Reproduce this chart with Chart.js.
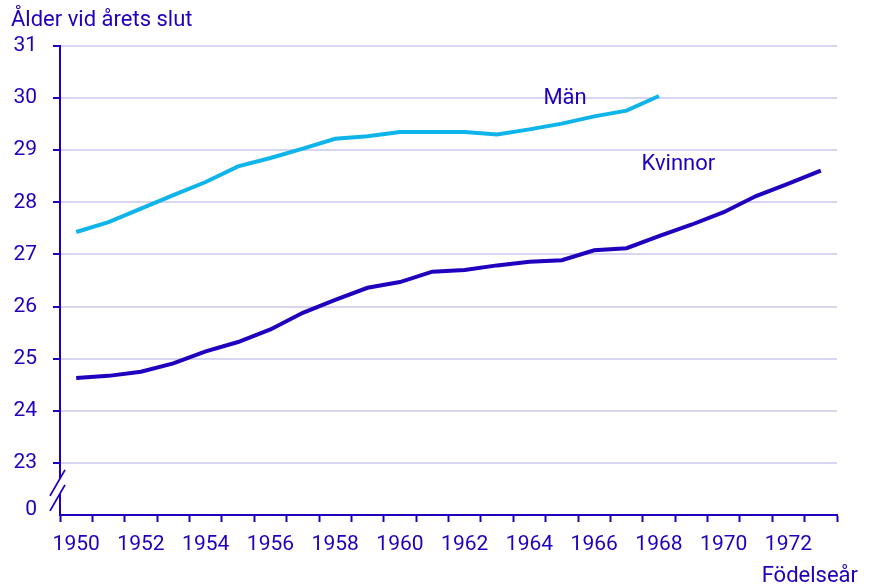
<!DOCTYPE html>
<html>
<head>
<meta charset="utf-8">
<script src="https://cdn.jsdelivr.net/npm/chart.js@4"></script>
<style>
  body { margin: 0; background: #fff; }
  canvas { display: block; }
</style>
</head>
<body>
<canvas id="ageChart" width="869" height="586"></canvas>
<script>
// --- Data ---
const years = [];
for (let y = 1950; y <= 1973; y++) years.push(String(y));

const man = [27.43, 27.62, 27.88, 28.14, 28.39, 28.69, 28.85, 29.03, 29.22, 29.27,
  29.35, 29.35, 29.35, 29.30, 29.40, 29.51, 29.65, 29.76, 30.04,
  null, null, null, null, null];
const kvinnor = [24.63, 24.67, 24.75, 24.91, 25.14, 25.32, 25.56, 25.88, 26.13, 26.36,
  26.47, 26.67, 26.70, 26.79, 26.86, 26.89, 27.08, 27.12, 27.35, 27.57,
  27.81, 28.12, 28.36, 28.61];

// 22.1 stands in for the "0" under the axis break
const yTicks = [22.1, 23, 24, 25, 26, 27, 28, 29, 30, 31];

const BLUE = '#1e00be';
const CYAN = '#0fb4eb';
const GRID = '#d6d6f2';
const FONT = 'Roboto, "Noto Sans", sans-serif';

// --- Extra text + axis break ---
const extras = {
  id: 'extras',
  afterDraw(chart) {
    const { ctx, scales: { x, y } } = chart;
    ctx.save();
    ctx.fillStyle = BLUE;
    ctx.font = '22px ' + FONT;
    ctx.textBaseline = 'middle';
    ctx.textAlign = 'left';
    ctx.fillText('Ålder vid årets slut', 11, 20);
    ctx.textAlign = 'right';
    ctx.fillText('Födelseår', 858, 576);
    ctx.textAlign = 'center';
    ctx.fillText('Män', x.getPixelForValue(15.1), y.getPixelForValue(30));
    ctx.fillText('Kvinnor', x.getPixelForValue(18.6), y.getPixelForValue(28.73));

    // break in the y axis
    const ax = x.left;
    const top = y.getPixelForValue(23) + 7;
    const gap = 15;
    ctx.fillStyle = '#fff';
    ctx.beginPath();
    ctx.moveTo(ax - 10, top + 26);
    ctx.lineTo(ax + 5, top);
    ctx.lineTo(ax + 5, top + gap);
    ctx.lineTo(ax - 10, top + 26 + gap);
    ctx.closePath();
    ctx.fill();
    ctx.strokeStyle = BLUE;
    ctx.lineWidth = 1.8;
    ctx.beginPath();
    ctx.moveTo(ax - 10, top + 26);
    ctx.lineTo(ax + 5, top);
    ctx.moveTo(ax - 10, top + 26 + gap);
    ctx.lineTo(ax + 5, top + gap);
    ctx.stroke();
    ctx.restore();
  }
};

new Chart(document.getElementById('ageChart').getContext('2d'), {
  type: 'line',
  data: {
    labels: years,
    datasets: [
      { label: 'Män', data: man, borderColor: CYAN, borderWidth: 4, pointRadius: 0, tension: 0 },
      { label: 'Kvinnor', data: kvinnor, borderColor: BLUE, borderWidth: 4, pointRadius: 0, tension: 0 }
    ]
  },
  options: {
    responsive: false,
    animation: false,
    layout: { padding: { top: 46, right: 32, left: 0, bottom: 0 } },
    plugins: { legend: { display: false }, tooltip: { enabled: false } },
    scales: {
      x: {
        offset: true,
        grid: { offset: true, drawOnChartArea: false, drawTicks: true, tickLength: 7, tickColor: BLUE, tickWidth: 2 },
        border: { color: BLUE, width: 2 },
        ticks: {
          autoSkip: false, maxRotation: 0, padding: 10,
          color: BLUE, font: { family: FONT, size: 21 },
          callback: (v, i) => (i % 2 === 0 ? years[i] : '')
        },
        afterFit: s => { s.height = 71; }
      },
      y: {
        min: 22,
        max: 31,
        afterBuildTicks: s => { s.ticks = yTicks.map(v => ({ value: v })); },
        grid: {
          color: c => (c.tick && c.tick.value < 23 ? 'rgba(0,0,0,0)' : GRID),
          tickColor: c => (c.tick && c.tick.value < 23 ? 'rgba(0,0,0,0)' : BLUE),
          lineWidth: 2, tickWidth: 2, tickLength: 7
        },
        border: { color: BLUE, width: 2 },
        ticks: {
          padding: 16, color: BLUE, font: { family: FONT, size: 21 },
          callback: v => (v < 23 ? '0' : v)
        },
        afterFit: s => { s.width = 60; }
      }
    }
  },
  plugins: [extras]
});
</script>
</body>
</html>
